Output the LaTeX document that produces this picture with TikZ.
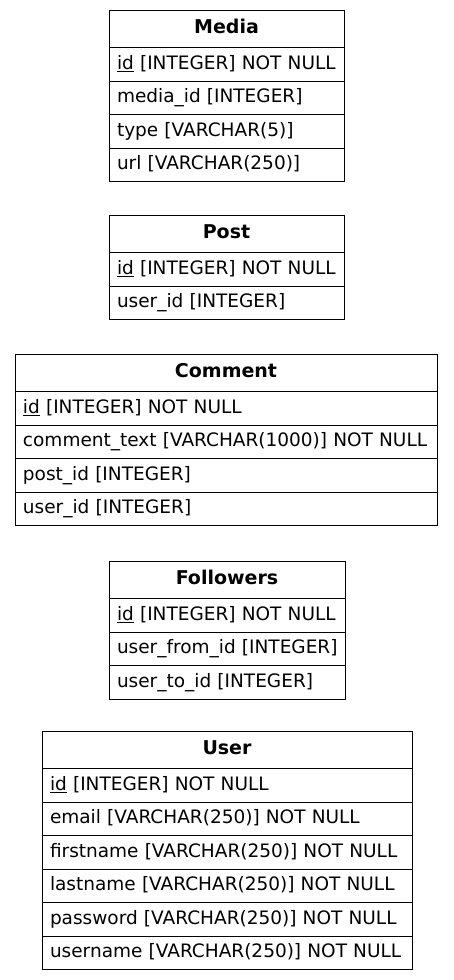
\documentclass[tikz,border=0pt]{standalone}
\usepackage{fontspec}
\setmainfont{DejaVu Sans}
\usetikzlibrary{positioning}
\begin{document}
\begin{tikzpicture}[x=1pt,y=1pt,line width=1pt,
  tblhead/.style={draw, rectangle, outer sep=0pt, inner xsep=8pt, inner ysep=0pt, minimum height=37.5pt, font=\fontsize{19}{22}\selectfont\bfseries, anchor=north, text height=14pt, text depth=4pt},
  tblrow/.style={draw, rectangle, outer sep=0pt, inner xsep=8pt, inner ysep=0pt, minimum height=33.5pt, align=left, font=\fontsize{18.5}{22}\selectfont, text height=14pt, text depth=4pt}]
\useasboundingbox (0,0) rectangle (453,-980);
% Media
\node[tblhead, minimum width=235pt] (media) at (226.5,-10) {Media};
\node[tblrow, text width=219pt, below=0pt of media] (media1) {\mbox{\underline{id} [INTEGER] NOT NULL}};
\node[tblrow, text width=219pt, below=0pt of media1] (media2) {\mbox{media\_id [INTEGER]}};
\node[tblrow, text width=219pt, below=0pt of media2] (media3) {\mbox{type [VARCHAR(5)]}};
\node[tblrow, text width=219pt, below=0pt of media3] (media4) {\mbox{url [VARCHAR(250)]}};
% Post
\node[tblhead, minimum width=235pt] (post) at (226.5,-215) {Post};
\node[tblrow, text width=219pt, below=0pt of post] (post1) {\mbox{\underline{id} [INTEGER] NOT NULL}};
\node[tblrow, text width=219pt, below=0pt of post1] (post2) {\mbox{user\_id [INTEGER]}};
% Comment
\node[tblhead, minimum width=422pt] (comment) at (226,-354) {Comment};
\node[tblrow, text width=406pt, below=0pt of comment] (comment1) {\mbox{\underline{id} [INTEGER] NOT NULL}};
\node[tblrow, text width=406pt, below=0pt of comment1] (comment2) {\mbox{comment\_text [VARCHAR(1000)] NOT NULL}};
\node[tblrow, text width=406pt, below=0pt of comment2] (comment3) {\mbox{post\_id [INTEGER]}};
\node[tblrow, text width=406pt, below=0pt of comment3] (comment4) {\mbox{user\_id [INTEGER]}};
% Followers
\node[tblhead, minimum width=236pt] (followers) at (227,-561) {Followers};
\node[tblrow, text width=220pt, below=0pt of followers] (followers1) {\mbox{\underline{id} [INTEGER] NOT NULL}};
\node[tblrow, text width=220pt, below=0pt of followers1] (followers2) {\mbox{user\_from\_id [INTEGER]}};
\node[tblrow, text width=220pt, below=0pt of followers2] (followers3) {\mbox{user\_to\_id [INTEGER]}};
% User
\node[tblhead, minimum width=370pt] (user) at (227,-731) {User};
\node[tblrow, text width=354pt, below=0pt of user] (user1) {\mbox{\underline{id} [INTEGER] NOT NULL}};
\node[tblrow, text width=354pt, below=0pt of user1] (user2) {\mbox{email [VARCHAR(250)] NOT NULL}};
\node[tblrow, text width=354pt, below=0pt of user2] (user3) {\mbox{firstname [VARCHAR(250)] NOT NULL}};
\node[tblrow, text width=354pt, below=0pt of user3] (user4) {\mbox{lastname [VARCHAR(250)] NOT NULL}};
\node[tblrow, text width=354pt, below=0pt of user4] (user5) {\mbox{password [VARCHAR(250)] NOT NULL}};
\node[tblrow, text width=354pt, below=0pt of user5] (user6) {\mbox{username [VARCHAR(250)] NOT NULL}};
\end{tikzpicture}
\end{document}
